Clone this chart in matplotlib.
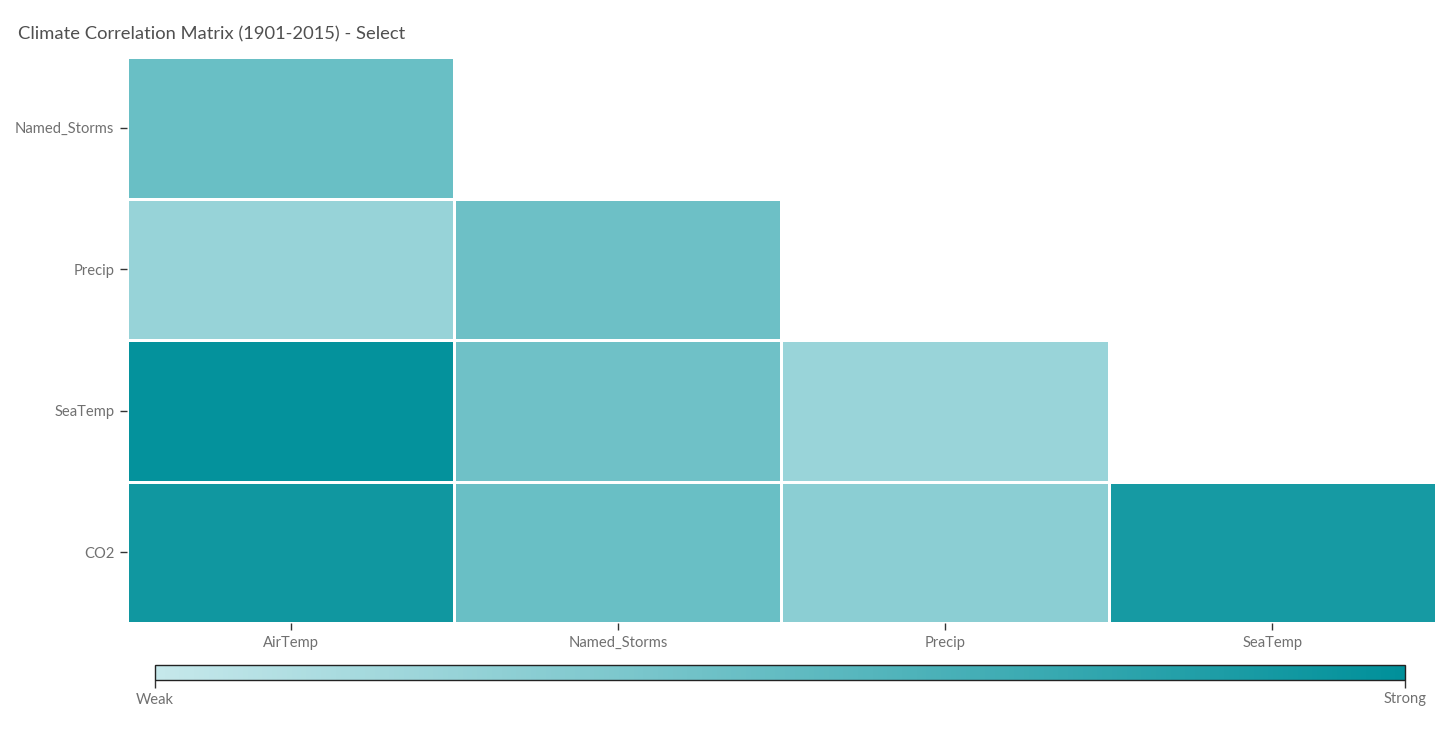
import numpy as np
import matplotlib
matplotlib.use('Agg')
import matplotlib.pyplot as plt
from matplotlib.colors import LinearSegmentedColormap

plt.rcParams['font.family'] = ['Lato', 'DejaVu Sans']

# ── Datos ───────────────────────────────────────────────────────────────────
col_labels = ['AirTemp', 'Named_Storms', 'Precip', 'SeaTemp']
row_labels = ['Named_Storms', 'Precip', 'SeaTemp', 'CO2']

# fuerza de la correlación (0 = débil, 1 = fuerte); NaN = celda vacía
row_named_storms = [0.47, np.nan, np.nan, np.nan]
row_precip       = [0.24, 0.45, np.nan, np.nan]
row_seatemp      = [0.98, 0.44, 0.23, np.nan]
row_co2          = [0.92, 0.47, 0.30, 0.89]

values = np.array([row_named_storms, row_precip, row_seatemp, row_co2])
masked = np.ma.masked_invalid(values)

cmap = LinearSegmentedColormap.from_list('weak_strong', ['#c6e8eb', '#00909a'])
gray = '#707070'

# ── Gráfica ─────────────────────────────────────────────────────────────────
fig = plt.figure(figsize=(14.56, 7.36), dpi=100)
ax = fig.add_axes([0.0872, 0.1535, 0.8990, 0.7690])

mesh = ax.pcolormesh(masked, cmap=cmap, vmin=0, vmax=1,
                     edgecolors='white', linewidth=2)
ax.set_xlim(0, len(col_labels))
ax.set_ylim(len(row_labels), 0)

ax.set_xticks(np.arange(len(col_labels)) + 0.5)
ax.set_xticklabels(col_labels)
ax.set_yticks(np.arange(len(row_labels)) + 0.5)
ax.set_yticklabels(row_labels)
ax.tick_params(axis='both', length=5, width=1, color='#333333',
               labelcolor=gray, labelsize=10.6, pad=4)
for s in ax.spines.values():
    s.set_visible(False)

fig.text(18 / 1456, 1 - 34 / 736, 'Climate Correlation Matrix (1901-2015) - Select',
         fontsize=13.2, color='#505050', va='center', ha='left')

# Barra de color
cax = fig.add_axes([155 / 1456, 1 - 680 / 736, 1250 / 1456, 15 / 736])
cb = fig.colorbar(mesh, cax=cax, orientation='horizontal')
cb.set_ticks([0, 1])
cb.set_ticklabels(['Weak', 'Strong'])
cb.outline.set_edgecolor('#222222')
cb.outline.set_linewidth(1)
cax.tick_params(length=6, width=1, color='#333333', labelcolor=gray,
                labelsize=10.6, pad=3)

plt.savefig('out.png', dpi=100)
